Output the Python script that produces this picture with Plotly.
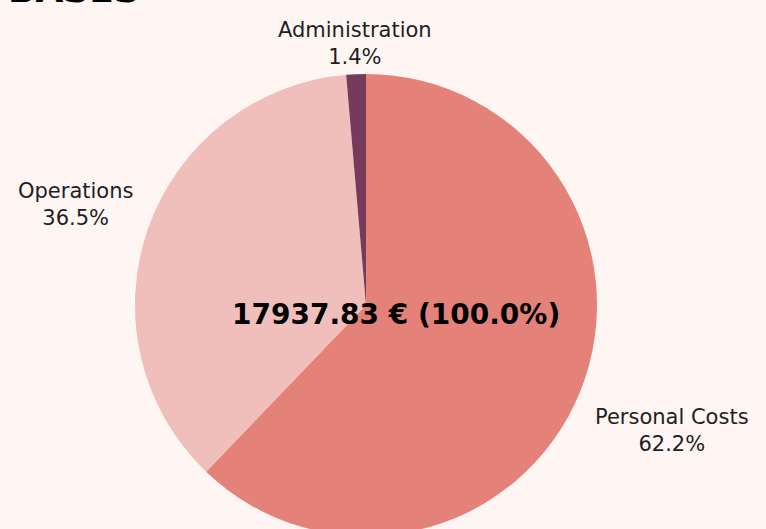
import math
import plotly.graph_objects as go

labels = ["Personal Costs", "Operations", "Administration"]
values = [11151.95, 6540.13, 245.75]
colors = ["#E4827A", "#F0BFBB", "#763A5B"]
total_text = "17937.83 € (100.0%)"
title_text = "BASES"

W, H = 766, 540           # figure slightly taller than the 529px window; bottom is cropped
CX, CY, R = 366, 305, 231  # pie centre and radius in px
FONT = "DejaVu Sans"

fig = go.Figure(go.Pie(
    labels=labels,
    values=values,
    marker=dict(colors=colors, line=dict(width=0)),
    sort=False,
    direction="clockwise",
    rotation=0,
    textinfo="none",
    showlegend=False,
    hoverinfo="skip",
    domain=dict(x=[0, 2 * CX / W], y=[1 - (CY + R) / H, 1 - (CY - R) / H]),
))

total = sum(values)
cum = 0.0
for lab, v in zip(labels, values):
    frac = v / total
    mid = (cum + frac / 2) * 2 * math.pi
    cum += frac
    dx, dy = math.sin(mid), -math.cos(mid)
    px = CX + dx * R * 1.06
    py = CY + dy * R * 1.05 + 8
    xa = "left" if dx > 0.3 else ("right" if dx < -0.3 else "center")
    ya = "top" if dy > 0.3 else ("bottom" if dy < -0.3 else "middle")
    fig.add_annotation(
        text=f"{lab}<br>{frac * 100:.1f}%",
        x=px / W, y=1 - py / H, xref="paper", yref="paper",
        xanchor=xa, yanchor=ya, showarrow=False, align="center",
        font=dict(size=21, color="#1e1e1e", family=FONT),
    )

fig.add_annotation(
    text="<b>" + total_text + "</b>",
    x=396 / W, y=1 - 314 / H, xref="paper", yref="paper",
    xanchor="center", yanchor="middle", showarrow=False,
    font=dict(size=28, color="#000000", family=FONT),
)
fig.add_annotation(
    text="<b>" + title_text + "</b>",
    x=6 / W, y=1 - 12 / H, xref="paper", yref="paper",
    xanchor="left", yanchor="bottom", showarrow=False,
    font=dict(size=36, color="#000000", family=FONT),
)

fig.update_layout(
    width=W, height=H,
    margin=dict(l=0, r=0, t=0, b=0),
    paper_bgcolor="#FFF6F4",
    plot_bgcolor="#FFF6F4",
)

fig.write_html(
    "out.html",
    config={"displayModeBar": False},
    post_script=(
        "document.body.style.margin='0';"
        "document.body.style.overflow='hidden';"
        "document.documentElement.style.overflow='hidden';"
        "document.body.style.background='#FFF6F4';"
    ),
)
